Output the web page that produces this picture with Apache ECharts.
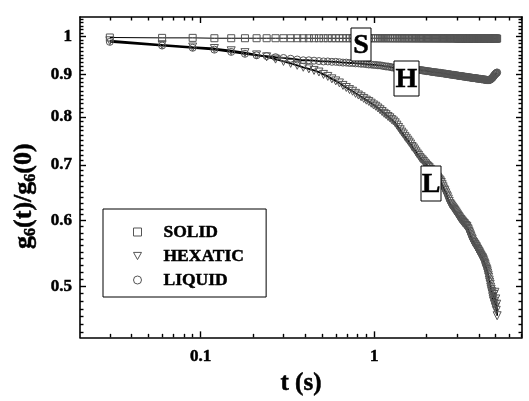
<!DOCTYPE html>
<html><head><meta charset="utf-8">
<script src="https://cdn.jsdelivr.net/npm/echarts@6/dist/echarts.min.js"></script>
<style>html,body{margin:0;padding:0;background:#fff}#c{width:529px;height:401px}</style>
</head><body><div id="c"></div>
<script>
// time grid t (s)
const tValues = [0.03,0.06,0.09,0.12,0.15,0.18,0.21,0.24,0.27,0.30,
0.33,0.36,0.39,0.42,0.45,0.48,0.51,0.54,0.57,0.60,
0.63,0.66,0.69,0.72,0.75,0.78,0.81,0.84,0.87,0.90,
0.93,0.96,0.99,1.02,1.05,1.08,1.11,1.14,1.17,1.20,
1.23,1.26,1.29,1.32,1.35,1.38,1.41,1.44,1.47,1.50,
1.53,1.56,1.59,1.62,1.65,1.68,1.71,1.74,1.77,1.80,
1.83,1.86,1.89,1.92,1.95,1.98,2.01,2.04,2.07,2.10,
2.13,2.16,2.19,2.22,2.25,2.28,2.31,2.34,2.37,2.40,
2.43,2.46,2.49,2.52,2.55,2.58,2.61,2.64,2.67,2.70,
2.73,2.76,2.79,2.82,2.85,2.88,2.91,2.94,2.97,3.00,
3.03,3.06,3.09,3.12,3.15,3.18,3.21,3.24,3.27,3.30,
3.33,3.36,3.39,3.42,3.45,3.48,3.51,3.54,3.57,3.60,
3.63,3.66,3.69,3.72,3.75,3.78,3.81,3.84,3.87,3.90,
3.93,3.96,3.99,4.02,4.05,4.08,4.11,4.14,4.17,4.20,
4.23,4.26,4.29,4.32,4.35,4.38,4.41,4.44,4.47,4.50,
4.53,4.56,4.59,4.62,4.65,4.68,4.71,4.74,4.77,4.80,
4.83,4.86,4.89,4.92,4.95,4.98,5.01,5.04,5.07,5.10];

// SOLID (squares)
const solidValues = [0.997,0.996,0.996,0.995,0.995,0.995,0.995,0.995,0.995,0.995,
0.995,0.995,0.995,0.995,0.995,0.995,0.995,0.995,0.995,0.995,
0.995,0.995,0.995,0.995,0.995,0.995,0.995,0.995,0.995,0.995,
0.995,0.995,0.995,0.995,0.995,0.995,0.995,0.995,0.995,0.995,
0.995,0.995,0.995,0.995,0.995,0.995,0.995,0.995,0.995,0.995,
0.995,0.995,0.995,0.995,0.995,0.995,0.995,0.995,0.995,0.995,
0.995,0.995,0.995,0.995,0.995,0.995,0.995,0.995,0.995,0.995,
0.995,0.995,0.995,0.995,0.995,0.995,0.995,0.995,0.995,0.995,
0.995,0.995,0.995,0.995,0.995,0.995,0.995,0.995,0.995,0.995,
0.995,0.995,0.995,0.995,0.995,0.995,0.995,0.995,0.995,0.995,
0.994,0.994,0.994,0.994,0.994,0.994,0.994,0.994,0.994,0.994,
0.994,0.994,0.994,0.994,0.994,0.994,0.994,0.994,0.994,0.994,
0.994,0.994,0.994,0.994,0.994,0.994,0.994,0.994,0.994,0.994,
0.994,0.994,0.994,0.994,0.994,0.994,0.994,0.994,0.994,0.994,
0.994,0.994,0.994,0.994,0.994,0.994,0.994,0.994,0.994,0.994,
0.994,0.994,0.994,0.994,0.994,0.994,0.994,0.994,0.994,0.994,
0.994,0.994,0.994,0.994,0.994,0.994,0.994,0.994,0.994,0.994];

// HEXATIC (triangles)
const hexaticValues = [0.988,0.977,0.971,0.967,0.961,0.956,0.950,0.945,0.939,0.933,
0.928,0.923,0.918,0.914,0.910,0.906,0.900,0.895,0.889,0.884,
0.879,0.873,0.868,0.863,0.859,0.854,0.850,0.846,0.842,0.838,
0.835,0.831,0.827,0.824,0.820,0.816,0.812,0.808,0.805,0.801,
0.798,0.794,0.791,0.787,0.782,0.777,0.772,0.767,0.763,0.758,
0.754,0.750,0.746,0.742,0.737,0.734,0.730,0.726,0.722,0.719,
0.715,0.712,0.710,0.707,0.704,0.702,0.699,0.697,0.695,0.692,
0.690,0.688,0.685,0.683,0.681,0.678,0.677,0.674,0.672,0.670,
0.667,0.663,0.659,0.655,0.652,0.648,0.644,0.641,0.637,0.633,
0.629,0.627,0.625,0.623,0.621,0.619,0.617,0.615,0.613,0.611,
0.609,0.607,0.605,0.603,0.602,0.600,0.599,0.597,0.596,0.595,
0.593,0.592,0.591,0.590,0.587,0.585,0.582,0.580,0.577,0.575,
0.572,0.570,0.567,0.565,0.564,0.562,0.561,0.559,0.558,0.556,
0.554,0.553,0.551,0.550,0.548,0.546,0.545,0.543,0.542,0.541,
0.539,0.537,0.535,0.533,0.531,0.528,0.526,0.524,0.522,0.519,
0.516,0.513,0.509,0.506,0.503,0.499,0.496,0.493,0.490,0.486,
0.483,0.480,0.489,0.476,0.492,0.472,0.483,0.468,0.476,0.461];

// LIQUID (circles)
const liquidValues = [0.985,0.975,0.969,0.964,0.958,0.953,0.949,0.947,0.944,0.942,
0.940,0.938,0.936,0.936,0.935,0.934,0.933,0.933,0.932,0.932,
0.931,0.930,0.930,0.929,0.929,0.928,0.928,0.927,0.927,0.926,
0.925,0.925,0.924,0.924,0.923,0.923,0.922,0.921,0.920,0.920,
0.919,0.918,0.917,0.917,0.916,0.916,0.916,0.915,0.915,0.914,
0.914,0.914,0.913,0.913,0.913,0.912,0.912,0.912,0.912,0.911,
0.911,0.911,0.910,0.910,0.909,0.909,0.908,0.908,0.908,0.907,
0.907,0.906,0.906,0.906,0.905,0.905,0.905,0.904,0.904,0.904,
0.903,0.903,0.903,0.902,0.902,0.902,0.901,0.901,0.901,0.900,
0.900,0.900,0.899,0.899,0.899,0.899,0.898,0.898,0.898,0.897,
0.897,0.897,0.896,0.896,0.896,0.896,0.895,0.895,0.895,0.895,
0.894,0.894,0.894,0.894,0.893,0.893,0.893,0.893,0.892,0.892,
0.892,0.892,0.891,0.891,0.891,0.891,0.891,0.890,0.890,0.890,
0.890,0.890,0.889,0.889,0.889,0.889,0.889,0.888,0.888,0.888,
0.888,0.888,0.887,0.887,0.887,0.887,0.887,0.886,0.886,0.886,
0.886,0.886,0.886,0.887,0.887,0.888,0.889,0.890,0.891,0.892,
0.894,0.895,0.897,0.898,0.900,0.901,0.902,0.903,0.904,0.905];

const seriesNames = ['SOLID', 'HEXATIC', 'LIQUID'];
const boxLabels = ['S', 'H', 'L'];

const xMajorTicks = [0.1, 1];
const xTickLabels = ['0.1', '1'];
const xMinorTicks = [0.03,0.04,0.05,0.06,0.07,0.08,0.09,0.2,0.3,0.4,0.5,0.6,0.7,0.8,0.9,2,3,4,5,6,7];
const yMajorTicks = [0.5, 0.6, 0.7, 0.8, 0.9, 1];
const yTickLabels = ['0.5', '0.6', '0.7', '0.8', '0.9', '1'];
const yMinorTicks = [];
for (let i = 44; i <= 105; i++) { if (i % 10 !== 0) yMinorTicks.push(i / 100); }

const X_MIN = 0.0202, X_MAX = 7.09;
const Y_MIN = 0.4342, Y_MAX = 1.0553;

const FONT = '"Liberation Serif", "Times New Roman", serif';
const BLACK = '#000';
const MARK = '#555';
const HEAVY = { textBorderColor: BLACK, textBorderWidth: 0.5 };

function pick(ticks, labels, v) {
  const i = ticks.findIndex(m => Math.abs(m - v) < 1e-6 * m);
  return i >= 0 ? labels[i] : '';
}

function xAx(pos, ticks, len, showLine, showLabel) {
  return {
    type: 'log', logBase: 10, min: X_MIN, max: X_MAX, position: pos,
    axisLine: { show: showLine, onZero: false, lineStyle: { color: BLACK, width: 1.6 } },
    axisTick: { show: true, inside: true, length: len, customValues: ticks, lineStyle: { color: BLACK, width: 1.4 } },
    axisLabel: Object.assign({ show: showLabel, customValues: ticks, margin: 11,
      formatter: v => pick(xMajorTicks, xTickLabels, v),
      fontFamily: FONT, fontWeight: 'bold', fontSize: 17, color: BLACK }, HEAVY),
    splitLine: { show: false }, minorTick: { show: false }, minorSplitLine: { show: false }
  };
}
function yAx(pos, ticks, len, showLine, showLabel) {
  return {
    type: 'log', logBase: 10, min: Y_MIN, max: Y_MAX, position: pos,
    axisLine: { show: showLine, onZero: false, lineStyle: { color: BLACK, width: 1.6 } },
    axisTick: { show: true, inside: true, length: len, customValues: ticks, lineStyle: { color: BLACK, width: 1.4 } },
    axisLabel: Object.assign({ show: showLabel, customValues: ticks, margin: 8,
      formatter: v => pick(yMajorTicks, yTickLabels, v),
      fontFamily: FONT, fontWeight: 'bold', fontSize: 17, color: BLACK }, HEAVY),
    splitLine: { show: false }, minorTick: { show: false }, minorSplitLine: { show: false }
  };
}

const xAxes = [
  Object.assign(xAx('bottom', xMajorTicks, 6, true, true), {
    name: 't (s)', nameLocation: 'middle', nameGap: 29,
    nameTextStyle: Object.assign({ fontFamily: FONT, fontWeight: 'bold', fontSize: 25, color: BLACK }, HEAVY)
  }),
  xAx('bottom', xMinorTicks, 3.5, false, false),
  xAx('top', xMajorTicks, 6, true, false),
  xAx('top', xMinorTicks, 3.5, false, false)
];
const yAxes = [
  Object.assign(yAx('left', yMajorTicks, 6, true, true), {
    name: '{a|g}{s|6}{a|(t)/g}{s|6}{a|(0)}', nameLocation: 'middle', nameRotate: 90, nameGap: 37,
    nameTextStyle: { padding: [0, 38, 0, 0], rich: {
      a: Object.assign({ fontFamily: FONT, fontWeight: 'bold', fontSize: 26, color: BLACK }, HEAVY),
      s: Object.assign({ fontFamily: FONT, fontWeight: 'bold', fontSize: 16, color: BLACK, padding: [15, 0, 0, 0] }, HEAVY)
    } }
  }),
  yAx('left', yMinorTicks, 3.5, false, false),
  yAx('right', yMajorTicks, 6, true, false),
  yAx('right', yMinorTicks, 3.5, false, false)
];

const pairs = vals => tValues.map((t, i) => [t, vals[i]]);
const markStyle = { color: 'rgba(255,255,255,0)', borderColor: MARK, borderWidth: 1 };

const series = [
  { name: seriesNames[0], type: 'line', data: pairs(solidValues), symbol: 'rect', symbolSize: 7,
    itemStyle: markStyle, lineStyle: { color: BLACK, width: 1 }, emphasis: { disabled: true }, z: 3 },
  { name: seriesNames[1], type: 'line', data: pairs(hexaticValues), symbol: 'triangle', symbolRotate: 180, symbolSize: 8,
    itemStyle: markStyle, lineStyle: { color: BLACK, width: 1.8 }, emphasis: { disabled: true }, z: 2 },
  { name: seriesNames[2], type: 'line', data: pairs(liquidValues), symbol: 'circle', symbolSize: 7,
    itemStyle: markStyle, lineStyle: { color: BLACK, width: 1.8 }, emphasis: { disabled: true }, z: 2 }
];

const legendIconStyle = { color: '#fff', borderColor: MARK, borderWidth: 1 };
const legendIcons = ['rect', 'path://M0,0L10,0L5,9Z', 'circle'];

function boxLabel(txt, x, y, w, h) {
  return [
    { type: 'rect', shape: { x: x, y: y, width: w, height: h }, style: { fill: '#fff', stroke: BLACK, lineWidth: 1 }, z: 100 },
    { type: 'text', x: x + w / 2, y: y + h / 2 + 1, style: { text: txt, fontFamily: FONT, fontWeight: 'bold', fontSize: 28,
      fill: BLACK, align: 'center', verticalAlign: 'middle', stroke: BLACK, lineWidth: 0.5 }, z: 101 }
  ];
}

const chart = echarts.init(document.getElementById('c'), null, { renderer: 'canvas' });
chart.setOption({
  animation: false,
  backgroundColor: '#fff',
  grid: { left: 80, right: 7, top: 17, bottom: 49 },
  xAxis: xAxes,
  yAxis: yAxes,
  legend: {
    orient: 'vertical', left: 103, top: 209,
    data: seriesNames.map((n, i) => ({ name: n, icon: legendIcons[i], itemStyle: legendIconStyle })),
    itemWidth: 8, itemHeight: 8, itemGap: 0,
    padding: [11, 22, 5, 30],
    borderColor: BLACK, borderWidth: 1, backgroundColor: '#fff',
    selectedMode: false,
    textStyle: Object.assign({ fontFamily: FONT, fontWeight: 'bold', fontSize: 17.5, color: BLACK, lineHeight: 24, padding: [0, 0, 0, 17] }, HEAVY)
  },
  graphic: [].concat(
    boxLabel(boxLabels[0], 351, 28, 20, 33),
    boxLabel(boxLabels[1], 394, 61, 25, 35),
    boxLabel(boxLabels[2], 421, 166, 20, 35)
  ),
  series: series
});
</script>
</body></html>
